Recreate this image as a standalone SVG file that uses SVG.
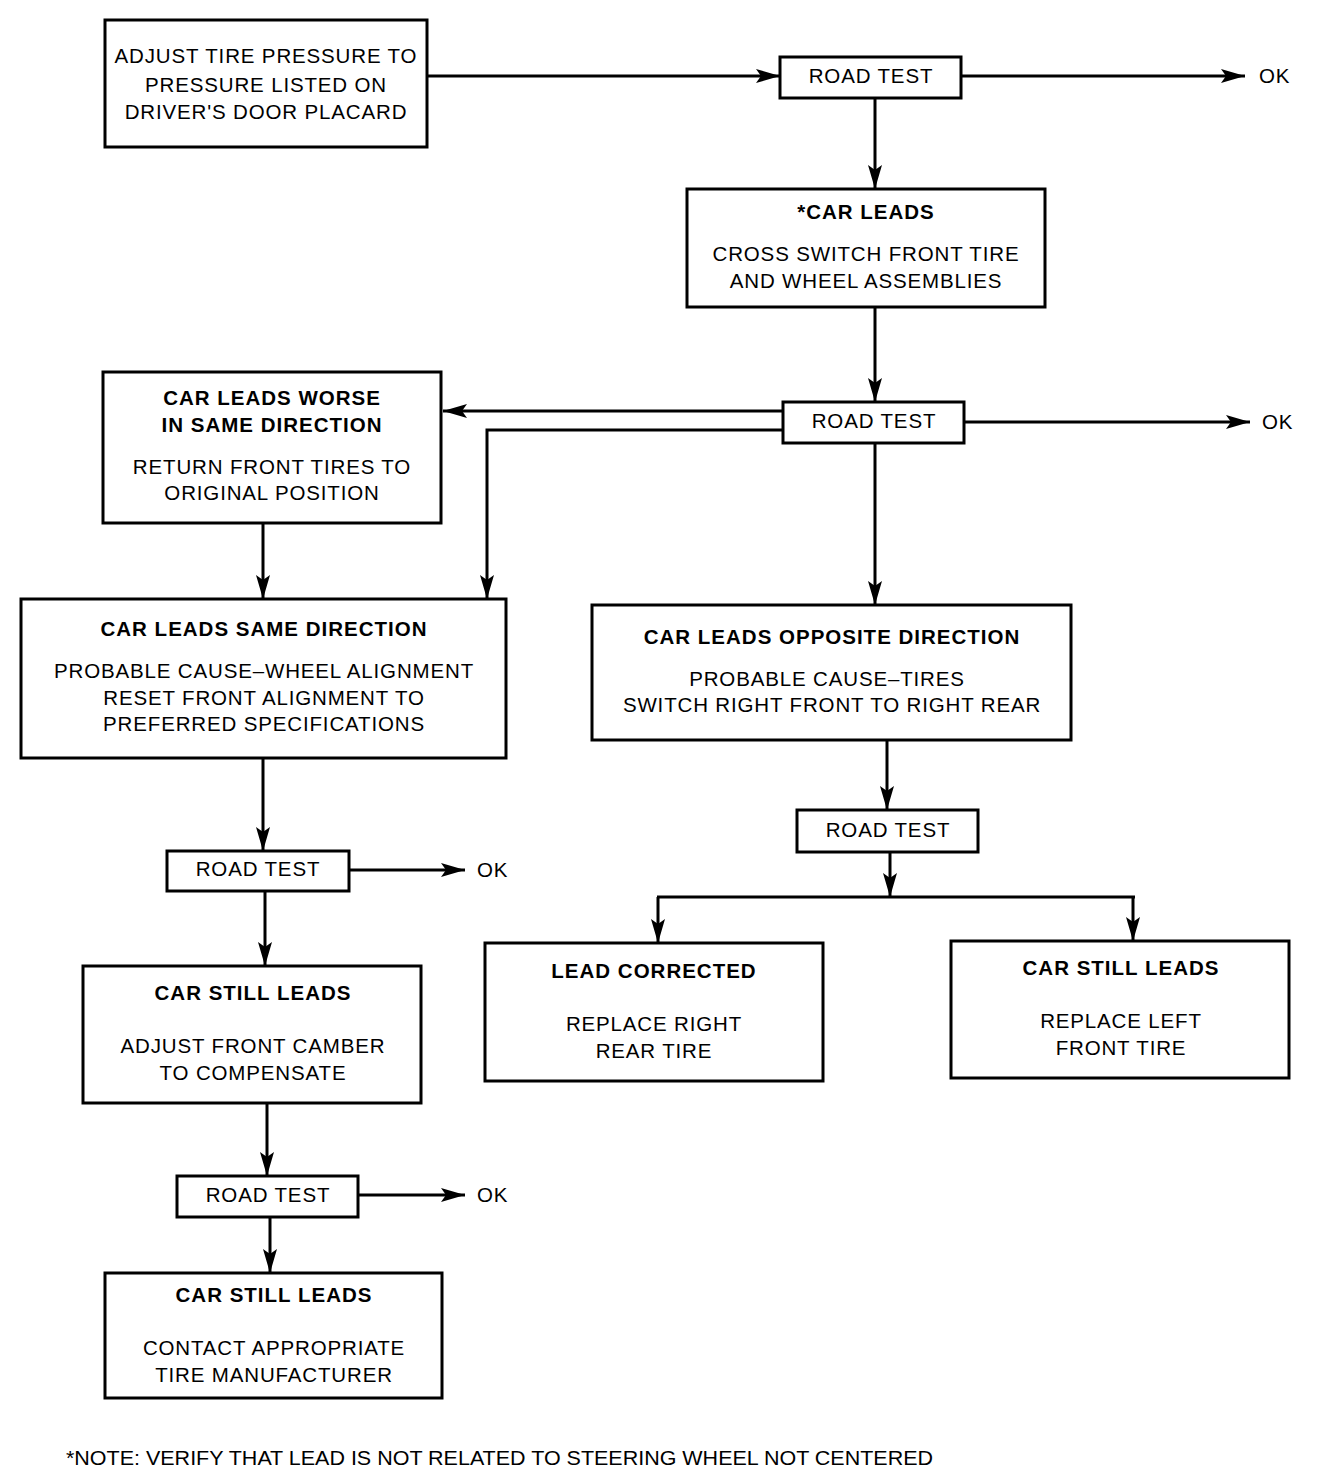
<svg xmlns="http://www.w3.org/2000/svg" width="1328" height="1478" viewBox="0 0 1328 1478">
<style>
rect.b{fill:#fff;stroke:#000;stroke-width:3}
text{font-family:"Liberation Sans",Arial,sans-serif;font-size:20.5px;fill:#000;text-anchor:middle;letter-spacing:0.85px}
text.h{font-weight:bold;letter-spacing:1px}
text.n{text-anchor:start;font-size:20px;letter-spacing:0}
text.ok{text-anchor:start}
#connectors path,#connectors line{fill:none;stroke:#000;stroke-width:3}
</style>
<defs>
<marker id="ah" markerUnits="userSpaceOnUse" markerWidth="26" markerHeight="16" refX="24" refY="7" orient="auto">
<path d="M0,0 L24,7 L0,14 L5,7 z" fill="#000"/>
</marker>
</defs>
<rect width="1328" height="1478" fill="#fff"/>
<g id="connectors">
<line x1="427" y1="76" x2="780" y2="76" marker-end="url(#ah)"/>
<line x1="961" y1="76" x2="1245" y2="76" marker-end="url(#ah)"/>
<line x1="875" y1="98" x2="875" y2="189" marker-end="url(#ah)"/>
<line x1="875" y1="307" x2="875" y2="402" marker-end="url(#ah)"/>
<line x1="964" y1="422" x2="1250" y2="422" marker-end="url(#ah)"/>
<line x1="783" y1="411" x2="443" y2="411" marker-end="url(#ah)"/>
<path d="M783,430 H487 V599" marker-end="url(#ah)"/>
<line x1="875" y1="443" x2="875" y2="605" marker-end="url(#ah)"/>
<line x1="263" y1="523" x2="263" y2="599" marker-end="url(#ah)"/>
<line x1="263" y1="758" x2="263" y2="851" marker-end="url(#ah)"/>
<line x1="349" y1="870" x2="465" y2="870" marker-end="url(#ah)"/>
<line x1="265" y1="891" x2="265" y2="966" marker-end="url(#ah)"/>
<line x1="267" y1="1103" x2="267" y2="1176" marker-end="url(#ah)"/>
<line x1="358" y1="1195" x2="465" y2="1195" marker-end="url(#ah)"/>
<line x1="270" y1="1217" x2="270" y2="1273" marker-end="url(#ah)"/>
<line x1="887" y1="740" x2="887" y2="810" marker-end="url(#ah)"/>
<line x1="890" y1="852" x2="890" y2="897" marker-end="url(#ah)"/>
<line x1="657" y1="897" x2="1135" y2="897"/>
<line x1="658" y1="897" x2="658" y2="943" marker-end="url(#ah)"/>
<line x1="1133" y1="897" x2="1133" y2="941" marker-end="url(#ah)"/>
</g>
<g id="n1"><rect class="b" x="105" y="20" width="322" height="127"/>
<text x="266" y="63">ADJUST TIRE PRESSURE TO</text>
<text x="266" y="92">PRESSURE LISTED ON</text>
<text x="266" y="119">DRIVER'S DOOR PLACARD</text></g>
<g id="rt1"><rect class="b" x="780" y="57" width="181" height="41"/>
<text x="871" y="83">ROAD TEST</text></g>
<text class="ok" x="1259" y="83">OK</text>
<g id="n2"><rect class="b" x="687" y="189" width="358" height="118"/>
<text class="h" x="866" y="219">*CAR LEADS</text>
<text x="866" y="261">CROSS SWITCH FRONT TIRE</text>
<text x="866" y="288">AND WHEEL ASSEMBLIES</text></g>
<g id="rt2"><rect class="b" x="783" y="402" width="181" height="41"/>
<text x="874" y="428">ROAD TEST</text></g>
<text class="ok" x="1262" y="429">OK</text>
<g id="n3"><rect class="b" x="103" y="372" width="338" height="151"/>
<text class="h" x="272" y="405">CAR LEADS WORSE</text>
<text class="h" x="272" y="432">IN SAME DIRECTION</text>
<text x="272" y="474">RETURN FRONT TIRES TO</text>
<text x="272" y="500">ORIGINAL POSITION</text></g>
<g id="n4"><rect class="b" x="21" y="599" width="485" height="159"/>
<text class="h" x="264" y="636">CAR LEADS SAME DIRECTION</text>
<text x="264" y="678">PROBABLE CAUSE–WHEEL ALIGNMENT</text>
<text x="264" y="705">RESET FRONT ALIGNMENT TO</text>
<text x="264" y="731">PREFERRED SPECIFICATIONS</text></g>
<g id="rt3"><rect class="b" x="167" y="851" width="182" height="40"/>
<text x="258" y="876">ROAD TEST</text></g>
<text class="ok" x="477" y="877">OK</text>
<g id="n5"><rect class="b" x="83" y="966" width="338" height="137"/>
<text class="h" x="253" y="1000">CAR STILL LEADS</text>
<text x="253" y="1053">ADJUST FRONT CAMBER</text>
<text x="253" y="1080">TO COMPENSATE</text></g>
<g id="rt4"><rect class="b" x="177" y="1176" width="181" height="41"/>
<text x="268" y="1202">ROAD TEST</text></g>
<text class="ok" x="477" y="1202">OK</text>
<g id="n6"><rect class="b" x="105" y="1273" width="337" height="125"/>
<text class="h" x="274" y="1302">CAR STILL LEADS</text>
<text x="274" y="1355">CONTACT APPROPRIATE</text>
<text x="274" y="1382">TIRE MANUFACTURER</text></g>
<g id="n7"><rect class="b" x="592" y="605" width="479" height="135"/>
<text class="h" x="832" y="644">CAR LEADS OPPOSITE DIRECTION</text>
<text x="827" y="686">PROBABLE CAUSE–TIRES</text>
<text x="832" y="712">SWITCH RIGHT FRONT TO RIGHT REAR</text></g>
<g id="rt5"><rect class="b" x="797" y="810" width="181" height="42"/>
<text x="888" y="837">ROAD TEST</text></g>
<g id="n8"><rect class="b" x="485" y="943" width="338" height="138"/>
<text class="h" x="654" y="978">LEAD CORRECTED</text>
<text x="654" y="1031">REPLACE RIGHT</text>
<text x="654" y="1058">REAR TIRE</text></g>
<g id="n9"><rect class="b" x="951" y="941" width="338" height="137"/>
<text class="h" x="1121" y="975">CAR STILL LEADS</text>
<text x="1121" y="1028">REPLACE LEFT</text>
<text x="1121" y="1055">FRONT TIRE</text></g>
<text class="n" x="66" y="1465" textLength="867" lengthAdjust="spacingAndGlyphs">*NOTE: VERIFY THAT LEAD IS NOT RELATED TO STEERING WHEEL NOT CENTERED</text>
</svg>
